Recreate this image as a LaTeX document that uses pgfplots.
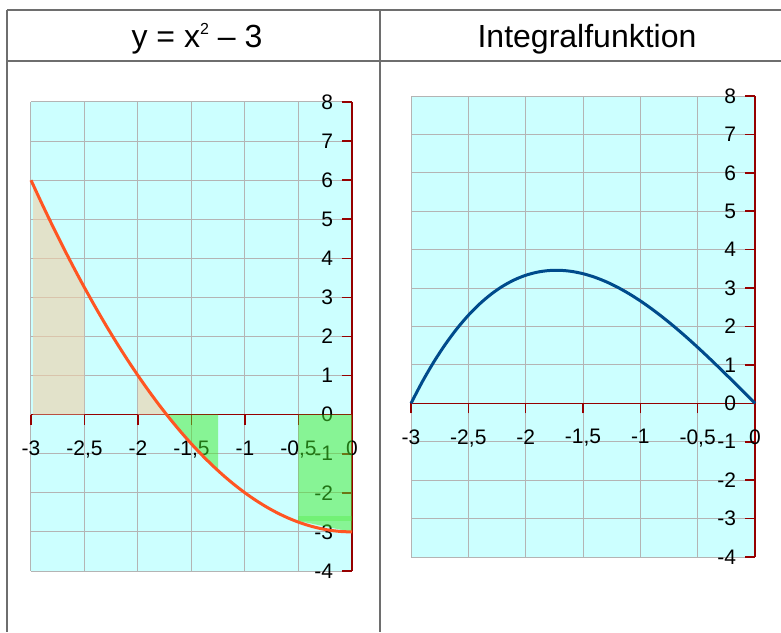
\documentclass[border=0pt]{standalone}
\usepackage{pgfplots}
\pgfplotsset{compat=1.18}
\usepackage{fontspec}
\setmainfont{Liberation Sans}
\definecolor{bgcyan}{RGB}{204,255,255}
\definecolor{axred}{RGB}{150,0,0}
\definecolor{gridgray}{RGB}{180,180,180}
\definecolor{framegray}{RGB}{110,110,110}
\definecolor{curveorange}{RGB}{255,85,34}
\definecolor{curveblue}{RGB}{0,75,140}
\definecolor{fillgreen}{RGB}{68,235,45}
\definecolor{filltan}{RGB}{242,208,168}
\pgfplotsset{
 panel/.style={
  scale only axis,
  xmin=-3,xmax=0,ymin=-4,ymax=8,
  axis lines=middle,
  axis line style={-, color=axred, line width=0.8pt},
  xtick={-3,-2.5,-2,-1.5,-1,-0.5,0},
  xticklabels={-3,{-2,5},-2,{-1,5},-1,{-0,5},0},
  ytick={-4,-3,-2,-1,0,1,2,3,4,5,6,7,8},
  yticklabels={-4,-3,-2,-1,0,1,2,3,4,5,6,7,8},
  hide obscured x ticks=false, hide obscured y ticks=false,
  grid=major,
  major grid style={gridgray, line width=0.5pt},
  tick align=outside,
  major tick length=5pt,
  tick style={axred, line width=0.8pt},
  tick label style={font=\fontsize{10.5}{12}\selectfont, text=black},
  xticklabel style={yshift=-4.5pt},
  yticklabel style={xshift=-1pt},
  axis background/.style={fill=bgcyan},
  clip=false,
 }
}
\begin{document}
\begin{tikzpicture}
\useasboundingbox (0,0) rectangle (390.5pt,-316pt);
% frame
\draw[framegray, line width=0.7pt] (3.5pt,-5pt) -- (390.5pt,-5pt);
\draw[framegray, line width=0.7pt] (3.5pt,-30.5pt) -- (390.5pt,-30.5pt);
\draw[framegray, line width=0.7pt] (3.5pt,-5pt) -- (3.5pt,-316pt);
\draw[framegray, line width=0.7pt] (190pt,-5pt) -- (190pt,-316pt);
\node[font=\fontsize{16}{19}\selectfont] at (98.5pt,-19.5pt) {y = x\raisebox{0.75ex}{\fontsize{8}{8}\selectfont 2} – 3};
\node[font=\fontsize{16}{19}\selectfont] at (293.5pt,-19.5pt) {Integralfunktion};

\begin{axis}[panel, at={(15.5pt,-285.5pt)}, anchor=south west, width=160.5pt, height=234.5pt]
\addplot[draw=none, fill=filltan, fill opacity=0.6] coordinates {
(-2.98,0) (-2.98,5.88) (-2.9,5.41) (-2.8,4.84) (-2.7,4.29) (-2.6,3.76) (-2.5,3.25) (-2.5,0)} -- cycle;
\addplot[draw=none, fill=filltan, fill opacity=0.6] coordinates {
(-2,0) (-2,1) (-1.9,0.61) (-1.8,0.24) (-1.732,0)} -- cycle;
\addplot[draw=none, fill=fillgreen, fill opacity=0.5] coordinates {
(-1.732,0) (-1.7,-0.11) (-1.6,-0.44) (-1.5,-0.75) (-1.4,-1.04) (-1.3,-1.31) (-1.25,-1.4375) (-1.25,0)} -- cycle;
\addplot[draw=none, fill=fillgreen, fill opacity=0.5] coordinates {
(-0.5,0) (0,0) (0,-3) (-0.5,-2.72)} -- cycle;
\addplot[draw=none, fill=fillgreen, fill opacity=0.3] coordinates {
(-0.5,-2.6) (0,-2.6) (0,-2.72) (-0.5,-2.72)} -- cycle;
\addplot[curveorange, line width=1.5pt, smooth] coordinates {
(-3,6) (-2.9,5.41) (-2.8,4.84) (-2.7,4.29) (-2.6,3.76) (-2.5,3.25) (-2.4,2.76) (-2.3,2.29) (-2.2,1.84) (-2.1,1.41) (-2,1) (-1.9,0.61) (-1.8,0.24) (-1.7,-0.11) (-1.6,-0.44) (-1.5,-0.75) (-1.4,-1.04) (-1.3,-1.31) (-1.2,-1.56) (-1.1,-1.79) (-1,-2) (-0.9,-2.19) (-0.8,-2.36) (-0.7,-2.51) (-0.6,-2.64) (-0.5,-2.75) (-0.4,-2.84) (-0.3,-2.91) (-0.2,-2.96) (-0.1,-2.99) (0,-3)};
\end{axis}

\begin{axis}[panel, at={(205.5pt,-278.5pt)}, anchor=south west, width=172pt, height=230.5pt]
\addplot[curveblue, line width=1.5pt, smooth] coordinates {
(-3,0) (-2.9,0.5703) (-2.8,1.0827) (-2.7,1.539) (-2.6,1.9413) (-2.5,2.2917) (-2.4,2.592) (-2.3,2.8443) (-2.2,3.0507) (-2.1,3.213) (-2,3.3333) (-1.9,3.4137) (-1.8,3.456) (-1.7,3.4623) (-1.6,3.4347) (-1.5,3.375) (-1.4,3.2853) (-1.3,3.1677) (-1.2,3.024) (-1.1,2.8563) (-1,2.6667) (-0.9,2.457) (-0.8,2.2293) (-0.7,1.9857) (-0.6,1.728) (-0.5,1.4583) (-0.4,1.1787) (-0.3,0.891) (-0.2,0.5973) (-0.1,0.2997) (0,0)};
\end{axis}
\end{tikzpicture}
\end{document}
